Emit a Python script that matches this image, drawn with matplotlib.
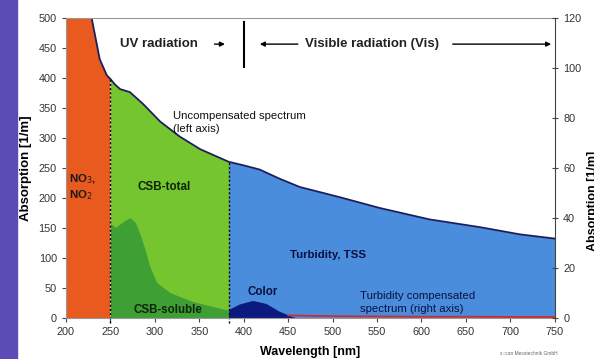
import matplotlib
matplotlib.use('Agg')
import matplotlib.pyplot as plt
from matplotlib.patches import Rectangle

plt.rcParams['font.family'] = ['Liberation Sans', 'DejaVu Sans']

# uncompensated spectrum (left axis)
spec_wl = [200, 220, 229, 238, 246, 250, 255, 261, 272, 287, 306, 328, 351, 383,
           400, 418, 440, 463, 508, 553, 609, 666, 711, 750]
spec_abs = [700, 580, 500, 432, 405, 399, 390, 382, 377, 357, 328, 303, 282, 261,
            255, 248, 233, 219, 202, 184, 165, 152, 140, 133]

# CSB-soluble
sol_wl = [250, 256, 265, 272, 278, 283, 289, 294, 302, 317, 343, 373, 383]
sol_abs = [158, 152, 162, 168, 160, 142, 115, 88, 60, 43, 28, 17, 14]

# Color
col_wl = [383, 395, 410, 425, 440, 455, 462]
col_abs = [15, 24, 30, 25, 12, 3, 0]

# turbidity compensated spectrum (right axis)
comp_wl = [450, 500, 550, 600, 650, 700, 750]
comp_abs = [1.2, 0.9, 0.8, 0.7, 0.7, 0.6, 0.6]

no3_end = 250
csb_end = 383

fig = plt.figure(figsize=(5.94, 3.59), dpi=100)
fig.patches.append(Rectangle((0, 0), 0.029, 1, transform=fig.transFigure,
                             color='#5a4bb5', zorder=0))
ax = fig.add_axes([0.111, 0.113, 0.823, 0.836])
ax2 = ax.twinx()

i1 = spec_wl.index(no3_end)
i2 = spec_wl.index(csb_end)
ax.fill_between(spec_wl[:i1 + 1], 0, spec_abs[:i1 + 1], color='#e85a1e', lw=0)
ax.fill_between(spec_wl[i1:i2 + 1], 0, spec_abs[i1:i2 + 1], color='#74c52e', lw=0)
ax.fill_between(spec_wl[i2:], 0, spec_abs[i2:], color='#4a8ddd', lw=0)
ax.fill_between(sol_wl, 0, sol_abs, color='#3e9f35', lw=0)
ax.fill_between(col_wl, 0, col_abs, color='#0c1a80', lw=0)
ax.plot(spec_wl, spec_abs, color='#1c1f5c', lw=1.3)

ax.plot([no3_end, no3_end], [-8, spec_abs[i1]], color='black', ls=(0, (1.5, 1.5)),
        lw=1, clip_on=False)
ax.plot([csb_end, csb_end], [-8, spec_abs[i2]], color='black', ls=(0, (1.5, 1.5)),
        lw=1, clip_on=False)

ax2.plot(comp_wl, comp_abs, color='#d42a2a', lw=1.3)

ax.set_xlim(200, 750)
ax.set_ylim(0, 500)
ax2.set_ylim(0, 120)
ax.set_xticks(range(200, 751, 50))
ax.set_yticks(range(0, 501, 50))
ax2.set_yticks(range(0, 121, 20))
ax.tick_params(labelsize=7.8, colors='#444444', labelcolor='#333333', length=3)
ax2.tick_params(labelsize=7.8, colors='#444444', labelcolor='#333333',
                direction='inout', length=5)
for s in ['top', 'left', 'bottom']:
    ax.spines[s].set_color('#999999')
    ax2.spines[s].set_visible(False)
ax.spines['right'].set_visible(False)
ax2.spines['right'].set_color('#444444')

ax.set_xlabel('Wavelength [nm]', fontsize=9, fontweight='bold', labelpad=6)
ax.set_ylabel('Absorption [1/m]', fontsize=9.5, fontweight='bold', labelpad=5)
fig.text(0.988, 0.44, 'Absorption [1/m]', rotation=90, fontsize=9,
         fontweight='bold', va='center', ha='left')

# annotations
ax.text(261, 457, 'UV radiation', fontsize=9.5, fontweight='bold', va='center',
        color='#222222')
ax.annotate('', xy=(382, 457), xytext=(364, 457),
            arrowprops=dict(arrowstyle='-|>', color='black', lw=1, mutation_scale=7))
ax.plot([400, 400], [419, 494], color='black', lw=1.5)
ax.annotate('', xy=(415, 457), xytext=(464, 457),
            arrowprops=dict(arrowstyle='-|>', color='black', lw=1, mutation_scale=7))
ax.text(469, 457, 'Visible radiation (Vis)', fontsize=9.5, fontweight='bold',
        va='center', color='#222222')
ax.annotate('', xy=(749, 457), xytext=(632, 457),
            arrowprops=dict(arrowstyle='-|>', color='black', lw=1, mutation_scale=7))

ax.text(320, 345, 'Uncompensated spectrum\n(left axis)', fontsize=8.2, va='top',
        color='#111111', linespacing=1.35)
ax.text(203, 219, 'NO$_3$,\nNO$_2$', fontsize=8.2, fontweight='bold', va='center',
        color='#1a1a1a', linespacing=1.2)
ax.text(281, 219, 'CSB-total', fontsize=8.4, fontweight='bold', va='center',
        color='#10230a')
ax.text(276, 14, 'CSB-soluble', fontsize=8.3, fontweight='bold', va='center',
        color='#10230a')
ax.text(404, 44, 'Color', fontsize=8.3, fontweight='bold', va='center',
        color='#0a1040')
ax.text(452, 106, 'Turbidity, TSS', fontsize=8.2, fontweight='bold', va='center',
        color='#0a1040')
ax.text(531, 26, 'Turbidity compensated\nspectrum (right axis)', fontsize=8.2,
        va='center', color='#0a1040', linespacing=1.35)

fig.text(0.842, 0.012, 's::can Messtechnik GmbH', fontsize=3.5, color='#666666')

fig.savefig('out.png', dpi=100)
